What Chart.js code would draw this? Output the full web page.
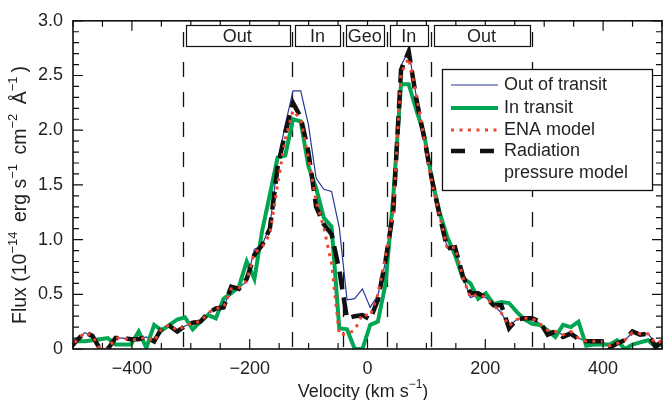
<!DOCTYPE html>
<html><head><meta charset="utf-8">
<script src="https://cdn.jsdelivr.net/npm/chart.js@4"></script>
<style>html,body{margin:0;padding:0;background:#fff}</style>
</head><body>
<canvas id="c" width="663" height="400"></canvas>
<script>
const velocity = [-506.4,-493.3,-480.2,-467.1,-454.0,-440.9,-427.8,-414.7,-401.6,-388.5,
  -375.4,-362.3,-349.2,-336.1,-323.0,-309.9,-296.8,-283.7,-270.6,-257.5,
  -244.4,-231.3,-218.2,-205.1,-192.0,-178.9,-165.8,-152.7,-139.6,-126.5,
  -113.4,-100.3,-87.2,-74.1,-61.0,-47.9,-34.8,-21.7,-8.6,4.5,
  17.6,30.7,43.8,56.9,70.0,83.1,96.2,109.3,122.4,135.5,
  148.6,161.7,174.8,187.9,201.0,214.1,227.2,240.3,253.4,266.5,
  279.6,292.7,305.8,318.9,332.0,345.1,358.2,371.3,384.4,397.5,
  410.6,423.7,436.8,449.9,463.0,476.1,489.2,502.3];
const outOfTransit = [0.00,0.08,0.15,0.12,0.00,0.00,0.10,0.10,0.08,0.09,
  0.11,0.07,0.19,0.22,0.17,0.21,0.24,0.25,0.33,0.37,
  0.38,0.55,0.56,0.62,0.91,0.95,1.12,1.70,2.05,2.36,
  2.36,2.05,1.56,1.46,1.44,1.11,0.45,0.46,0.55,0.38,
  0.49,0.80,1.26,2.59,2.73,2.30,1.93,1.55,1.22,0.92,
  0.93,0.66,0.47,0.50,0.47,0.40,0.33,0.21,0.27,0.28,
  0.28,0.23,0.17,0.16,0.13,0.16,0.10,0.07,0.07,0.07,
  0.03,0.05,0.08,0.15,0.14,0.14,0.05,0.08];
const inTransit = [0.07,0.07,0.07,0.08,0.09,0.10,0.04,0.04,0.04,0.16,
  0.01,0.22,0.17,0.22,0.27,0.29,0.18,0.25,0.31,0.28,
  0.46,0.51,0.57,0.80,0.64,1.08,1.41,1.75,1.77,2.10,
  2.08,1.67,1.47,1.20,1.12,0.19,0.18,0.00,0.00,0.22,
  0.25,0.60,1.40,2.42,2.42,2.18,1.96,1.55,1.25,1.02,
  0.86,0.65,0.60,0.46,0.51,0.41,0.43,0.42,0.34,0.27,
  0.23,0.22,0.17,0.11,0.22,0.20,0.25,0.03,0.04,0.04,
  0.04,0.08,0.00,0.04,0.06,0.08,0.02,0.05];
const enaModel = [0.00,0.08,0.15,0.12,0.00,0.00,0.10,0.10,0.08,0.09,
  0.11,0.07,0.19,0.22,0.17,0.21,0.24,0.25,0.33,0.37,
  0.38,0.55,0.56,0.62,0.88,0.93,1.05,1.50,1.92,2.18,
  2.10,1.75,1.35,1.11,0.78,0.13,0.14,0.17,0.32,0.30,
  0.50,0.85,1.26,2.52,2.66,2.32,1.92,1.52,1.22,0.92,
  0.93,0.66,0.47,0.50,0.47,0.40,0.33,0.21,0.27,0.28,
  0.28,0.23,0.17,0.16,0.13,0.16,0.10,0.07,0.07,0.07,
  0.03,0.05,0.08,0.15,0.14,0.14,0.05,0.08];
const radiationModel = [0.00,0.08,0.15,0.12,0.00,0.00,0.10,0.10,0.09,0.09,
  0.11,0.07,0.19,0.21,0.16,0.21,0.24,0.25,0.33,0.37,
  0.38,0.57,0.55,0.64,0.86,0.95,1.10,1.66,1.98,2.25,
  2.12,1.80,1.30,1.14,1.05,0.72,0.28,0.30,0.31,0.27,
  0.45,0.81,1.26,2.55,2.72,2.28,1.93,1.55,1.22,0.92,
  0.93,0.67,0.51,0.51,0.47,0.40,0.40,0.19,0.27,0.28,
  0.28,0.25,0.13,0.16,0.11,0.14,0.09,0.07,0.07,0.07,
  0.01,0.05,0.08,0.16,0.13,0.14,0.02,0.08];
const xTickValues = [-400,-200,0,200,400];
const xTickLabels = ['\u2212400','\u2212200','0','200','400'];
const yTickValues = [0,0.5,1,1.5,2,2.5,3];
const yTickLabels = ['0','0.5','1.0','1.5','2.0','2.5','3.0'];
const regionBounds = [-314,-128,-42,33,107,280];
const regionLabels = ['Out','In','Geo','In','Out'];
const seriesLabels = ['Out of transit','In transit','ENA model','Radiation\npressure model'];

const FONT = '"Liberation Sans", Arial, Helvetica, sans-serif';
const TXT = '#231f20';

function drawRich(ctx, parts, cx, cy, rot, base, sup, gap) {
  ctx.save();
  ctx.translate(cx, cy); ctx.rotate(rot);
  ctx.fillStyle = TXT; ctx.textBaseline = 'alphabetic'; ctx.textAlign = 'left';
  const adv = p => { ctx.font = (p[1] ? sup + 'px ' : base + 'px ') + FONT; return ctx.measureText(p[0]).width + (p[1] ? gap : 0); };
  let w = 0;
  parts.forEach(p => { w += adv(p); });
  let xx = -w / 2;
  parts.forEach(p => {
    ctx.font = (p[1] ? sup + 'px ' : base + 'px ') + FONT;
    ctx.fillText(p[0], xx, p[1] ? -2.5 : 6.5);
    xx += adv(p);
  });
  ctx.restore();
}

const decor = {
  id: 'decor',
  beforeDatasetsDraw(chart) {
    const {ctx, chartArea: a, scales: {x}} = chart;
    ctx.save();
    ctx.strokeStyle = '#111'; ctx.lineWidth = 1.3; ctx.setLineDash([15, 15]);
    regionBounds.forEach(v => {
      const px = Math.round(x.getPixelForValue(v)) + 0.5;
      ctx.beginPath(); ctx.moveTo(px, 32); ctx.lineTo(px, a.bottom); ctx.stroke();
    });
    ctx.restore();
  },
  afterDraw(chart) {
    const {ctx, chartArea: a, scales: {x, y}} = chart;
    ctx.save();
    ctx.strokeStyle = '#111'; ctx.lineWidth = 1.2; ctx.setLineDash([]);
    for (let v = -500; v <= 500; v += 50) {
      const px = x.getPixelForValue(v);
      const len = xTickValues.includes(v) ? 10 : 6;
      ctx.beginPath();
      ctx.moveTo(px, a.bottom); ctx.lineTo(px, a.bottom - len);
      ctx.moveTo(px, a.top); ctx.lineTo(px, a.top + len);
      ctx.stroke();
    }
    for (let i = 0; i <= 30; i++) {
      const v = i / 10;
      const py = y.getPixelForValue(v);
      const len = (i % 5 === 0) ? 10 : 6;
      ctx.beginPath();
      ctx.moveTo(a.left, py); ctx.lineTo(a.left + len, py);
      ctx.moveTo(a.right, py); ctx.lineTo(a.right - len, py);
      ctx.stroke();
    }
    ctx.lineWidth = 1.6;
    ctx.strokeRect(a.left, a.top, a.right - a.left, a.bottom - a.top);
    ctx.lineWidth = 1.2;
    ctx.font = '18px ' + FONT; ctx.textAlign = 'center'; ctx.textBaseline = 'middle';
    for (let i = 0; i < regionLabels.length; i++) {
      const l = x.getPixelForValue(regionBounds[i]) + 3;
      const r = x.getPixelForValue(regionBounds[i + 1]) - 3;
      ctx.fillStyle = '#fff'; ctx.fillRect(l, 25, r - l, 22);
      ctx.strokeRect(Math.round(l) + 0.5, 25.5, Math.round(r - l), 21);
      ctx.fillStyle = TXT; ctx.fillText(regionLabels[i], (l + r) / 2, 37);
    }
    const L = {x: 442, y: 69, w: 210, h: 121};
    ctx.fillStyle = '#fff'; ctx.fillRect(L.x, L.y, L.w, L.h);
    ctx.lineWidth = 1.3; ctx.strokeRect(L.x + 0.5, L.y + 0.5, L.w, L.h);
    const rows = [85, 108, 130, 151];
    chart.data.datasets.forEach((ds, i) => {
      ctx.save();
      ctx.strokeStyle = ds.borderColor; ctx.lineWidth = ds.borderWidth;
      ctx.setLineDash(ds.legendDash || ds.borderDash || []);
      ctx.beginPath(); ctx.moveTo(451, rows[i]); ctx.lineTo(498, rows[i]); ctx.stroke();
      ctx.restore();
      ctx.fillStyle = TXT; ctx.font = '18px ' + FONT; ctx.textAlign = 'left'; ctx.textBaseline = 'middle';
      seriesLabels[i].split('\n').forEach((t, j) => ctx.fillText(t, 504, rows[i] + j * 22));
    });
    ctx.restore();
    drawRich(ctx, [['Flux (10', 0], ['\u221214', 1], [' erg s', 0], ['\u22121', 1], [' cm', 0], ['\u22122', 1], [' \u00c5', 0], ['\u22121', 1], [')', 0]], 19, 195, -Math.PI / 2, 19.5, 13, 4);
    drawRich(ctx, [['Velocity (km s', 0], ['\u22121', 1], [')', 0]], 363, 390, 0, 18, 12, 0);
  }
};

const pts = arr => velocity.map((v, i) => ({x: v, y: arr[i]}));
const tickFont = {family: FONT, size: 18};

new Chart(document.getElementById('c'), {
  type: 'line',
  data: {
    datasets: [
      {label: seriesLabels[0], data: pts(outOfTransit), borderColor: '#27389a', borderWidth: 1.2, order: 4},
      {label: seriesLabels[1], data: pts(inTransit), borderColor: '#00a651', borderWidth: 4, order: 3},
      {label: seriesLabels[2], data: pts(enaModel), borderColor: '#f0442c', borderWidth: 3, borderDash: [3, 5.5], order: 1},
      {label: seriesLabels[3], data: pts(radiationModel), borderColor: '#111111', borderWidth: 4.5, borderDash: [18, 8], legendDash: [14, 15], order: 2}
    ]
  },
  options: {
    responsive: false, animation: false,
    layout: {padding: {top: 20, right: 1, left: 0, bottom: 0}},
    elements: {point: {radius: 0}, line: {tension: 0, borderJoinStyle: 'miter', fill: false}},
    plugins: {legend: {display: false}, tooltip: {enabled: false}},
    scales: {
      x: {
        type: 'linear', min: -500, max: 500,
        grid: {display: false, drawTicks: false}, border: {display: false},
        afterBuildTicks: s => { s.ticks = xTickValues.map(v => ({value: v})); },
        ticks: {callback: v => xTickLabels[xTickValues.indexOf(v)], font: tickFont, color: TXT, padding: 9, maxRotation: 0, autoSkip: false},
        afterFit: s => { s.height = 51; }
      },
      y: {
        type: 'linear', min: 0, max: 3,
        grid: {display: false, drawTicks: false}, border: {display: false},
        afterBuildTicks: s => { s.ticks = yTickValues.map(v => ({value: v})); },
        ticks: {callback: v => yTickLabels[yTickValues.indexOf(v)], font: tickFont, color: TXT, padding: 10, autoSkip: false},
        afterFit: s => { s.width = 73; }
      }
    }
  },
  plugins: [decor]
});
</script>
</body></html>
